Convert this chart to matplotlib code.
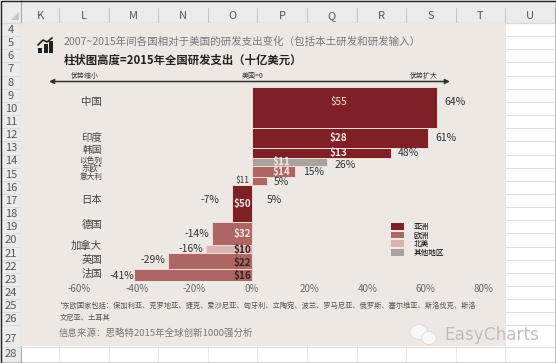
import numpy as np
import matplotlib
matplotlib.use('Agg')
import matplotlib.pyplot as plt
from matplotlib.patches import Rectangle, Patch, Ellipse, Polygon

plt.rcParams['font.family'] = ['Noto Sans CJK SC', 'DejaVu Sans']

# data
countries = ['中国', '印度', '韩国', '以色列', '东欧*', '意大利', '日本', '德国', '加拿大', '英国', '法国']
change = [64, 61, 48, 26, 15, 5, -7, -14, -16, -29, -41]
spend = [55, 28, 13, 11, 14, 11, 50, 32, 10, 22, 16]
region = ['亚洲', '亚洲', '亚洲', '其他地区', '欧洲', '欧洲', '亚洲', '欧洲', '北美', '欧洲', '欧洲']
region_names = ['亚洲', '欧洲', '北美', '其他地区']
region_colors = ['#7f2027', '#ad6663', '#d9b3ae', '#a9a29d']
xticks = [-60, -40, -20, 0, 20, 40, 60, 80]
col_names = list('KLMNOPQRSTU')
row_names = [str(r) for r in range(4, 29)]

# label tweaks, pixels (+ is up)
name_size = [7.5, 7.5, 7, 5.5, 6, 5.5, 7.5, 7.5, 7.5, 7.5, 7.5]
name_up = [5, 0, 3, 1, 3, 4, 3, 9, 3, 1, 1]
pct_up = [5, 0, 0, -3, -1, -1, 3, 0, 0, 1, -1]
spend_up = [5, 0, 0, 0, -1, 0, -1, 0, -1, -2, -1]

W, H = 556, 363
fig = plt.figure(figsize=(W / 100, H / 100), dpi=100, facecolor='white')

# spreadsheet behind the chart, in pixels
bg = fig.add_axes([0, 0, 1, 1])
bg.set_xlim(0, W)
bg.set_ylim(H, 0)
bg.axis('off')
bg.add_patch(Rectangle((0, 0), W, 23, fc='#ebebeb', ec='none'))
bg.add_patch(Rectangle((0, 0), 21, H, fc='#ebebeb', ec='none'))
bg.add_patch(Polygon([[19, 12], [19, 20], [11, 20]], fc='#c6c6c6', ec='none'))
bg.plot([0, W], [22.5, 22.5], color='#a8a8a8', lw=0.8)
bg.plot([21, 21], [0, H], color='#a8a8a8', lw=0.8)
for i, name in enumerate(col_names):
    x0 = 59 + i * 49.6
    bg.plot([x0, x0], [8, 22], color='#c4c4c4', lw=0.7)
    bg.plot([x0, x0], [23, H], color='#e4e4e4', lw=0.6)
    xc = 40 if i == 0 else x0 - 25
    bg.text(xc, 16, name, ha='center', va='center', fontsize=8, color='#555555')
for i, name in enumerate(row_names):
    y0 = 23 + i * 13.15
    if name == '28':
        y0 = 347
    bg.plot([0, W], [y0, y0], color='#dcdcdc', lw=0.7)
    yc = y0 + (14 if name == '27' else 7)
    bg.text(11, yc, name, ha='center', va='center', fontsize=8, color='#555555')
bg.add_patch(Rectangle((21, 23), 485, 323, fc='#eee8e5', ec='none', zorder=3))
bg.add_patch(Rectangle((0.5, 0.5), W - 1, H - 1, fc='none', ec='#222222', lw=1, zorder=7))

# icon
for x0, hh in zip([38, 44, 49], [5, 9, 12]):
    bg.add_patch(Rectangle((x0, 53 - hh), 4, hh, fc='#222222', ec='none', zorder=4))
bg.plot([38, 43, 47, 52], [45, 40, 42, 38], color='#222222', lw=1.2, zorder=4)

# titles
bg.text(64, 42, '2007~2015年间各国相对于美国的研发支出变化（包括本土研发和研发输入）', fontsize=7.6,
        style='italic', color='#777777', va='center', zorder=4)
bg.text(64, 60, '柱状图高度=2015年全国研发支出（十亿美元）', fontsize=8.2, weight='bold',
        color='#222222', va='center', zorder=4)

# arrow on top
bg.annotate('', xy=(49, 81.5), xytext=(450, 81.5), zorder=4,
            arrowprops=dict(arrowstyle='<|-|>', color='#333333', lw=1.1, mutation_scale=7,
                            shrinkA=0, shrinkB=0))
bg.text(85, 76, '优势缩小', fontsize=5, ha='center', va='center', color='#333333', zorder=4)
bg.text(253, 76, '美国=0', fontsize=5, ha='center', va='center', color='#333333', zorder=4)
bg.text(424, 76, '优势扩大', fontsize=5, ha='center', va='center', color='#333333', zorder=4)

# footnotes
bg.text(60, 306, '*东欧国家包括：保加利亚、克罗地亚、捷克、爱沙尼亚、匈牙利、立陶宛、波兰、罗马尼亚、俄罗斯、塞尔维亚、斯洛伐克、斯洛',
        fontsize=5.2, color='#555555', va='center', zorder=4)
bg.text(60, 318, '文尼亚、土耳其', fontsize=5.2, color='#555555', va='center', zorder=4)
bg.text(59, 333, '信息来源：思略特2015年全球创新1000强分析', fontsize=6.8, color='#777777', va='center', zorder=4)

# watermark
bg.add_patch(Ellipse((419, 332), 18, 15, fc='#f7f7f7', ec='#d8d8d8', lw=0.6, zorder=5))
bg.add_patch(Ellipse((429, 338), 15, 13, fc='#f7f7f7', ec='#d8d8d8', lw=0.6, zorder=5))
bg.text(444, 335, 'EasyCharts', fontsize=12.2, color='#b9b9b9', va='center', zorder=5, alpha=0.9,
        family='DejaVu Sans')

# the chart: x is percent, y is cumulative spend
ax = fig.add_axes([79 / W, 1 - 281 / H, (483 - 79) / W, (281 - 87) / H], zorder=6)
ax.patch.set_alpha(0)
ax.set_xlim(-60, 80)
tops = np.concatenate([[0], np.cumsum(spend)[:-1]])
ax.set_ylim(sum(spend), 0)
for n in range(len(countries)):
    c = region_colors[region_names.index(region[n])]
    ax.barh(tops[n], change[n], height=spend[n], align='edge', color=c, edgecolor='#f3dcd6', linewidth=0.7)
    mid = tops[n] + spend[n] / 2

    # spend label
    if n == 5:
        ax.annotate('$11', xy=(0, mid), xytext=(-2, 0), textcoords='offset points', fontsize=6,
                    ha='right', va='center', color='#333333')
    else:
        if change[n] < 0:
            xpos = -3.5
        elif change[n] > 40:
            xpos = 30
        else:
            xpos = 10
        dark = n >= 8
        ax.annotate('$%d' % spend[n], xy=(xpos, mid), xytext=(0, spend_up[n] * 0.72),
                    textcoords='offset points', fontsize=7.2, ha='center', va='center',
                    color='#3a2020' if dark else '#f9e6e3', weight='normal' if n == 0 else 'bold')

    # change label
    if change[n] > 0:
        ax.annotate('%d%%' % change[n], xy=(change[n], mid), xytext=(5.5, pct_up[n] * 0.72),
                    textcoords='offset points', fontsize=7.5, va='center', color='#333333')
    else:
        gap = {6: -9, 10: 0}.get(n, -2)
        ax.annotate('%d%%' % change[n], xy=(change[n], mid), xytext=(gap, pct_up[n] * 0.72),
                    textcoords='offset points', fontsize=7.5, ha='right', va='center', color='#333333')

    # country name on the left
    ax.annotate(countries[n], xy=(0, mid), xycoords=('axes fraction', 'data'),
                xytext=(16.5, name_up[n] * 0.72), textcoords='offset points', fontsize=name_size[n],
                ha='right', va='center', color='#444444')

# second figure next to Japan, as in the original
japan = countries.index('日本')
ax.annotate('5%', xy=(5, tops[japan] + spend[japan] / 2), xytext=(0, 2), textcoords='offset points',
            fontsize=7.5, va='center', color='#333333')

ax.set_xticks(xticks)
ax.set_xticklabels(['%d%%' % t for t in xticks], fontsize=7, color='#666666')
ax.set_yticks([])
ax.tick_params(axis='x', length=0, pad=2.5)
for s in ax.spines.values():
    s.set_visible(False)

# legend
handles = [Patch(fc=c, ec='none', label=l) for c, l in zip(region_colors, region_names)]
ax.legend(handles=handles, loc='upper left', bbox_to_anchor=(0.772, 0.30), frameon=False, fontsize=5.5,
          handlelength=1.7, handleheight=1, labelspacing=0.1, handletextpad=1.3, borderpad=0, borderaxespad=0)

fig.savefig('out.png', dpi=100)
